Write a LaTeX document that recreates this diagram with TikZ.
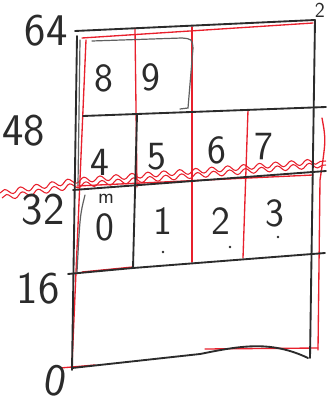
\documentclass[tikz,border=0pt]{standalone}
\usetikzlibrary{decorations.pathmorphing}
\definecolor{ink}{HTML}{2B2B2B}
\definecolor{pen}{HTML}{E8202C}
\tikzset{
  blk/.style={draw=ink, line width=1.4pt, line cap=round, line join=round},
  blkthin/.style={draw=ink!75, line width=0.9pt, line cap=round},
  redl/.style={draw=pen, line width=1.0pt, line cap=round},
  wavy/.style={draw=pen, line width=0.8pt, decorate, decoration={snake, amplitude=2pt, segment length=12pt}},
  axis/.style={inner sep=0pt, text=ink, font=\sffamily\fontsize{34}{34}\selectfont},
  cell/.style={inner sep=0pt, text=ink, font=\sffamily\fontsize{30}{30}\selectfont},
  dotm/.style={fill=ink, circle, inner sep=0pt, minimum size=2.2pt}
}
\begin{document}
\begin{tikzpicture}[x=0.75pt,y=-0.75pt]
\useasboundingbox (0,0) rectangle (326,406);
% ---------- red layer ----------
\draw[redl] (82,38) -- (313,23);
\draw[redl] (86,40) -- (72,365);
\draw[redl] (60,368) -- (95,365);
\draw[redl] (322,118) .. controls (326,140) .. (320,180) -- (318,350);
\draw[redl] (205,349) -- (318,348);
\draw[redl] (135,28) -- (137,187);
\draw[redl] (192,27) -- (192,262);
\draw[redl] (248,110) -- (243,258);
\draw[redl] (77,186) -- (313,175);
\draw[redl] (82,272) -- (133,267);
\draw[wavy] (2,198) -- (73,186) -- (326,165);
\draw[wavy] (0,193) -- (73,181) -- (326,161);
% ---------- black layer ----------
\draw[blk] (75,31) -- (315,20) -- (310,358);
\draw[blk] (77,36) -- (72,370);
\draw[blkthin] (80,40) -- (78,185);
\draw[blk] (72,368) -- (200,354) .. controls (240,346) and (270,340) .. (308,358);
\draw[blk] (83,116) -- (326,107);
\draw[blk] (73,190) -- (326,171);
\draw[blk] (68,274) -- (133,268) -- (325,253);
\draw[blkthin] (92,41) -- (182,38) .. controls (192,39) .. (193,48) -- (188,108) -- (180,109);
\draw[blk] (137,115) -- (133,268);
\draw[blkthin] (85,195) .. controls (80,215) .. (77,272);
% ---------- axis labels ----------
\node[axis] (l64) at (46,31) {64};
\node[axis] (l48) at (24,131) {48};
\node[axis] (l32) at (43,210) {32};
\node[axis] (l16) at (38,289) {16};
\node[axis, rotate=-10] (l0) at (56,381) {0};
\node[inner sep=0pt, text=ink, font=\sffamily\fontsize{16}{16}\selectfont] (l2) at (320,10) {2};
% ---------- cells ----------
\node[cell] (c8) at (104,78) {8};
\node[cell] (c9) at (151,77) {9};
\node[cell] (c4) at (100,162) {4};
\node[cell] (c5) at (157,157) {5};
\node[cell] (c6) at (217,150) {6};
\node[cell] (c7) at (264,147) {7};
\node[inner sep=0pt, text=ink, font=\sffamily\fontsize{16}{16}\selectfont] (cm) at (106,199) {m};
\node[cell] (c0) at (105,227) {0};
\node[cell] (c1) at (163,221) {1};
\node[cell] (c2) at (221,221) {2};
\node[cell] (c3) at (275,213) {3};
\node[dotm] (d1) at (163,252) {};
\node[dotm] (d2) at (230,247) {};
\node[dotm] (d3) at (278,237) {};
\end{tikzpicture}
\end{document}
